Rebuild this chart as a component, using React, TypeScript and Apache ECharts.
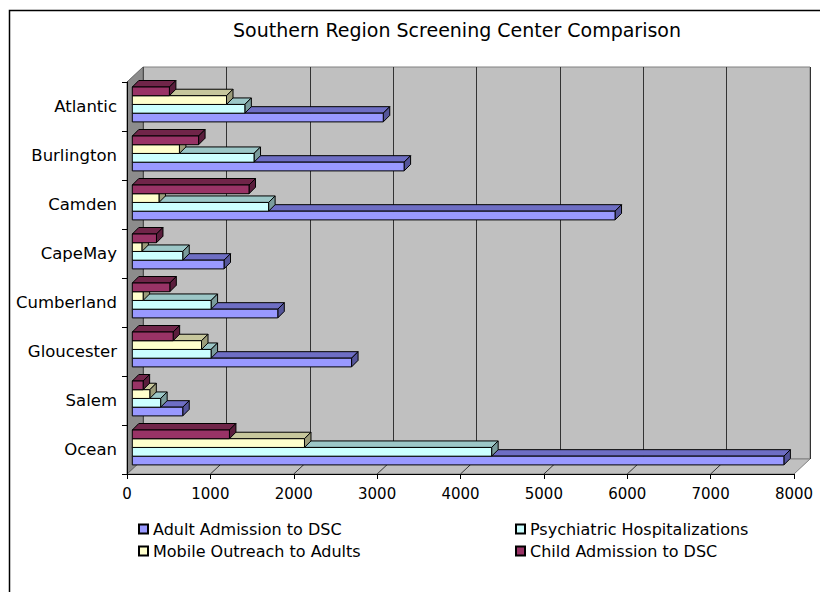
import React, { useEffect, useRef } from "react";
import * as echarts from "echarts";

const categories = ["Atlantic", "Burlington", "Camden", "CapeMay", "Cumberland", "Gloucester", "Salem", "Ocean"];
const seriesNames = [
  "Adult Admission to DSC",
  "Psychiatric Hospitalizations",
  "Mobile Outreach to Adults",
  "Child Admission to DSC",
];
const adultAdmission = [3010, 3260, 5790, 1100, 1745, 2630, 605, 7815];
const psychiatricHosp = [1350, 1460, 1635, 605, 945, 945, 340, 4310];
const mobileOutreach = [1130, 565, 320, 115, 130, 830, 210, 2065];
const childAdmission = [445, 795, 1400, 290, 450, 490, 130, 1165];
const axisMin = 0;
const axisMax = 8000;
const axisInterval = 1000;

const FONT = "DejaVu Sans";

// colours: front, top, side
const palette = [
  ["#9999FF", "#6E6EC4", "#55559A"],
  ["#CCFFFF", "#9CC7C7", "#7A9C9C"],
  ["#FFFFCC", "#C7C79C", "#9C9C7A"],
  ["#993366", "#702549", "#5A1D3C"],
];

// front axis plane
const FRONT = { left: 127, right: 794, top: 82, bottom: 474 };
const BAR_OFF = 5.3;
const WALL_DX = 16;
const WALL_DY = 15;

export default function App() {
  const ref = useRef<HTMLDivElement>(null);
  useEffect(() => {
    if (!ref.current) return;
    const chart = echarts.init(ref.current, undefined, { renderer: "svg" });
    const W = 820;
    const H = 592;
    const seriesData = [adultAdmission, psychiatricHosp, mobileOutreach, childAdmission];

    const makeRender = (k: number, cols: string[]) => (params: any, api: any) => {
      const v = api.value(0);
      const ci = api.value(1);
      const start = api.coord([0, ci]);
      const end = api.coord([v, ci]);
      const band = api.size([0, 1])[1];
      const h = band * 0.178;
      const d = 6.5;
      const groupTop = start[1] - (4 * h + d) / 2;
      const y0 = groupTop + d + k * h;
      const x0 = start[0];
      const x1 = end[0];
      const st = { stroke: "#000", lineWidth: 1 };
      return {
        type: "group",
        children: [
          {
            type: "polygon",
            shape: { points: [[x0, y0], [x1, y0], [x1 + d, y0 - d], [x0 + d, y0 - d]] },
            style: { fill: cols[1], ...st },
          },
          {
            type: "polygon",
            shape: { points: [[x1, y0], [x1 + d, y0 - d], [x1 + d, y0 - d + h], [x1, y0 + h]] },
            style: { fill: cols[2], ...st },
          },
          {
            type: "rect",
            shape: { x: x0, y: y0, width: x1 - x0, height: h },
            style: { fill: cols[0], ...st },
          },
        ],
      };
    };

    const series = seriesNames.map((name, s) => ({
      name,
      type: "custom",
      xAxisIndex: 0,
      yAxisIndex: 0,
      z: 2,
      itemStyle: { color: palette[s][0], borderColor: "#000", borderWidth: 1 },
      renderItem: makeRender(3 - s, palette[s]),
      encode: { x: 0, y: 1 },
      data: seriesData[s].map((v, i) => [v, i]),
    }));

    const unit = (FRONT.right - FRONT.left) / (axisMax - axisMin);
    const floorLines: any[] = [];
    for (let t = axisMin + axisInterval; t < axisMax; t += axisInterval) {
      const x = FRONT.left + (t - axisMin) * unit;
      floorLines.push({
        type: "line",
        z: 1,
        shape: { x1: x, y1: FRONT.bottom, x2: x + WALL_DX, y2: FRONT.bottom - WALL_DY },
        style: { stroke: "#333", lineWidth: 1 },
      });
    }

    const legendBase = {
      orient: "vertical",
      top: 521,
      padding: 0,
      itemWidth: 9,
      itemHeight: 9,
      itemGap: 6,
      icon: "rect",
      selectedMode: false,
      textStyle: { fontSize: 16, color: "#000", fontFamily: FONT },
    };

    const option: any = {
      animation: false,
      textStyle: { fontFamily: FONT, color: "#000" },
      title: {
        text: "Southern Region Screening Center Comparison",
        left: 457,
        top: 20,
        padding: 0,
        textAlign: "center",
        textStyle: { fontSize: 19, fontWeight: "normal", color: "#000", fontFamily: FONT },
      },
      legend: [
        { ...legendBase, data: [seriesNames[0], seriesNames[2]], left: 138 },
        { ...legendBase, data: [seriesNames[1], seriesNames[3]], left: 515 },
      ],
      grid: [
        {
          left: FRONT.left + BAR_OFF,
          right: W - (FRONT.right + BAR_OFF),
          top: FRONT.top - BAR_OFF,
          bottom: H - (FRONT.bottom - BAR_OFF),
        },
        {
          left: FRONT.left,
          right: W - FRONT.right,
          top: FRONT.top,
          bottom: H - FRONT.bottom,
        },
        {
          left: FRONT.left + WALL_DX,
          right: W - (FRONT.right + WALL_DX),
          top: FRONT.top - WALL_DY,
          bottom: H - (FRONT.bottom - WALL_DY),
          show: true,
          backgroundColor: "#C0C0C0",
          borderColor: "#808080",
          borderWidth: 1,
          z: 0,
        },
      ],
      xAxis: [
        { gridIndex: 0, type: "value", min: axisMin, max: axisMax, interval: axisInterval, show: false },
        {
          gridIndex: 1,
          type: "value",
          min: axisMin,
          max: axisMax,
          interval: axisInterval,
          z: 5,
          axisLine: { show: true, lineStyle: { color: "#000", width: 1 } },
          axisTick: { show: true, length: 5, lineStyle: { color: "#000" } },
          axisLabel: {
            fontSize: 15,
            color: "#000",
            margin: 12,
            fontFamily: FONT,
            formatter: (v: number) => String(v),
          },
          splitLine: { show: false },
        },
        {
          gridIndex: 2,
          type: "value",
          min: axisMin,
          max: axisMax,
          interval: axisInterval,
          axisLine: { show: false },
          axisTick: { show: false },
          axisLabel: { show: false },
          splitLine: { show: true, lineStyle: { color: "#333", width: 1 } },
        },
      ],
      yAxis: [
        { gridIndex: 0, type: "category", data: categories, inverse: true, show: false },
        {
          gridIndex: 1,
          type: "category",
          data: categories,
          inverse: true,
          z: 5,
          axisLine: { show: true, lineStyle: { color: "#000", width: 1 } },
          axisTick: { show: true, length: 5, lineStyle: { color: "#000" } },
          axisLabel: { fontSize: 16.5, color: "#000", margin: 10, fontFamily: FONT },
          splitLine: { show: false },
        },
        {
          gridIndex: 2,
          type: "category",
          data: categories,
          inverse: true,
          axisLine: { show: false },
          axisTick: { show: false },
          axisLabel: { show: false },
          splitLine: { show: false },
        },
      ],
      graphic: [
        {
          type: "polygon",
          z: 1,
          shape: {
            points: [
              [FRONT.left, FRONT.bottom],
              [FRONT.right, FRONT.bottom],
              [FRONT.right + WALL_DX, FRONT.bottom - WALL_DY],
              [FRONT.left + WALL_DX, FRONT.bottom - WALL_DY],
            ],
          },
          style: { fill: "#C0C0C0", stroke: "#808080", lineWidth: 1 },
        },
        {
          type: "polygon",
          z: 1,
          shape: {
            points: [
              [FRONT.left, FRONT.top],
              [FRONT.left + WALL_DX, FRONT.top - WALL_DY],
              [FRONT.left + WALL_DX, FRONT.bottom - WALL_DY],
              [FRONT.left, FRONT.bottom],
            ],
          },
          style: { fill: "#8C8C8C", stroke: "#666", lineWidth: 1 },
        },
        ...floorLines,
        {
          type: "polyline",
          z: 10,
          shape: { points: [[9.5, 600], [9.5, 10.5], [830, 10.5]] },
          style: { fill: "none", stroke: "#000", lineWidth: 1.5 },
        },
      ],
      series,
    };
    chart.setOption(option);
    return () => chart.dispose();
  }, []);
  return (
    <div
      ref={ref}
      style={{ position: "absolute", left: 0, top: 0, width: 820, height: 592, background: "#fff" }}
    />
  );
}
